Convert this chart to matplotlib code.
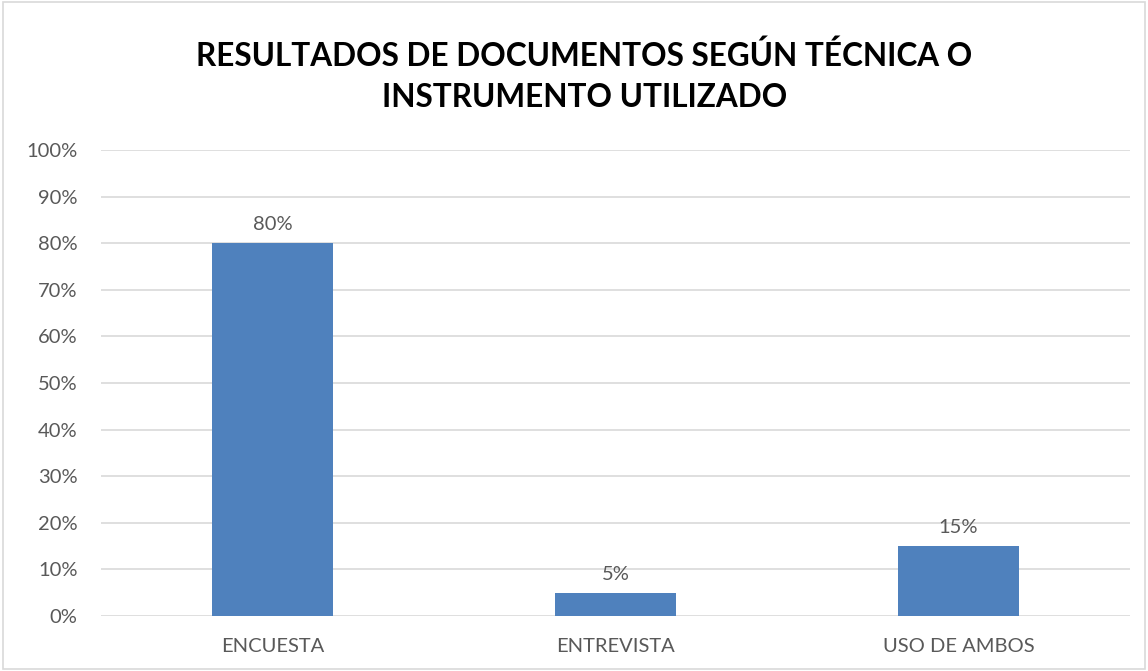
import matplotlib
matplotlib.use("Agg")
import matplotlib.pyplot as plt
from matplotlib.patches import Rectangle
from matplotlib.ticker import PercentFormatter

# ── data ─────────────────────────────────────────────────────────────
CATEGORIES = ["ENCUESTA", "ENTREVISTA", "USO DE AMBOS"]
VALUES     = [80, 5, 15]
TITLE      = "RESULTADOS DE DOCUMENTOS SEGÚN TÉCNICA O\nINSTRUMENTO UTILIZADO"

BAR_COLOR  = "#4F81BD"
TEXT_COLOR = "#595959"
GRID_COLOR = "#D9D9D9"

plt.rcParams["font.family"] = ["Lato", "DejaVu Sans"]

fig = plt.figure(figsize=(11.48, 6.71), dpi=100)
ax = fig.add_axes([101 / 1148, 55 / 671, 1029 / 1148, 466 / 671])

x = range(len(CATEGORIES))
bars = ax.bar(x, VALUES, width=0.353, color=BAR_COLOR, zorder=3)

for b, v in zip(bars, VALUES):
    ax.annotate(f"{v}%", (b.get_x() + b.get_width() / 2, v),
                xytext=(0, 7), textcoords="offset points",
                ha="center", va="bottom", fontsize=14.5, color=TEXT_COLOR)

ax.set_xlim(-0.5, len(CATEGORIES) - 0.5)
ax.set_ylim(0, 100)
ax.set_yticks(range(0, 101, 10))
ax.yaxis.set_major_formatter(PercentFormatter(decimals=0))
ax.set_xticks(list(x))
ax.set_xticklabels(CATEGORIES)
ax.tick_params(axis="both", length=0, labelsize=14.5, labelcolor=TEXT_COLOR)
ax.tick_params(axis="x", pad=16)
ax.tick_params(axis="y", pad=17)
ax.grid(axis="y", color=GRID_COLOR, linewidth=1.2, zorder=0)
for s in ax.spines.values():
    s.set_visible(False)

fig.text(0.509, 1 - 76 / 671, TITLE, ha="center", va="center",
         fontsize=22.7, fontweight="bold", color="black", linespacing=1.5)

# chart border
fig.patches.append(Rectangle((0.003, 0.003), 0.994, 0.994, transform=fig.transFigure,
                             fill=False, edgecolor=GRID_COLOR, linewidth=1.2))

fig.savefig("out.png", dpi=100)
